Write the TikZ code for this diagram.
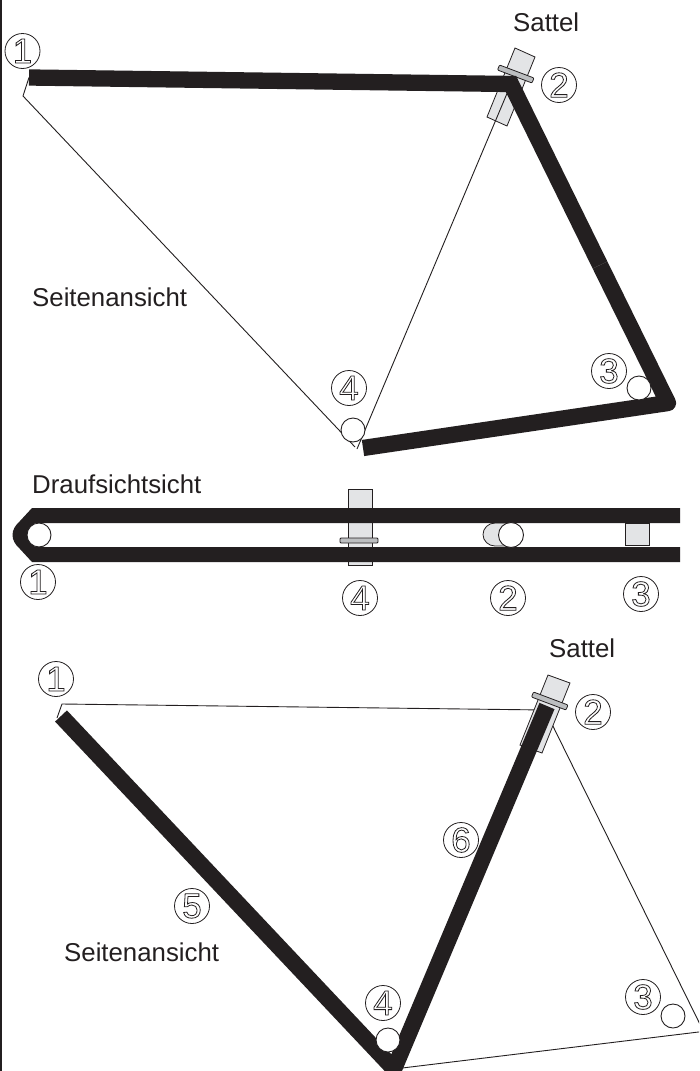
\documentclass[tikz,border=0pt]{standalone}
\usepackage{fontspec}
\setmainfont{Liberation Sans}
\definecolor{ink}{HTML}{231F20}
\definecolor{postgrey}{HTML}{E3E4E6}
\definecolor{collargrey}{HTML}{BCBEC0}
\newcommand{\outlinedigit}[1]{\special{pdf:code 1 Tr 0.8 w}#1\special{pdf:code 0 Tr}}
\tikzset{
  bar/.style={draw=ink,line width=16.3pt,line cap=butt},
  thin/.style={draw=ink,line width=0.9pt,line join=miter},
  post/.style={draw=ink,fill=postgrey,line width=0.8pt},
  collar/.style={draw=ink,fill=collargrey,line width=0.8pt,rounded corners=1pt},
  hole/.style={draw=ink,fill=white,line width=0.9pt,circle,minimum size=24pt,inner sep=0pt},
  num/.style={draw=ink,line width=0.8pt,circle,minimum size=35pt,inner sep=0pt,text=ink,font=\fontsize{35}{35}\selectfont},
  lab/.style={anchor=base west,inner sep=0pt,text=ink,font=\fontsize{25.8}{30}\selectfont}
}
\begin{document}
\begin{tikzpicture}[x=1pt,y=-1pt]
\useasboundingbox (0,0) rectangle (699,1071);
\clip (0,0) rectangle (699,1071);
\fill[white] (0,0) rectangle (699,1071);
\draw[ink,line width=1.6pt] (1,0) -- (1,1071);

% ---- top side view
\coordinate (tA) at (29,77.5);
\coordinate (tB) at (511,84);
\coordinate (tC) at (668,403);
\coordinate (tD) at (363,448);
\coordinate (tF) at (23,96);
\coordinate (tG) at (355,447);
\coordinate (tM) at (600,265);
\draw[thin] (tA) -- (tF) -- (tG);
\draw[post] (515,48) -- (535,57) -- (507,126) -- (487,117) -- cycle;
\draw[thin] (357,449) -- (tB);
\draw[collar] (497.5,70) -- (499.5,65) -- (534,78) -- (532,83) -- cycle;
\draw[bar,line join=miter] (tA) -- (tB) -- (tM);
\draw[bar,line join=round] (tM) -- (tC) -- (tD);
\node[hole] (th3) at (639,388) {};
\node[hole] (th4) at (353,430) {};
\node[num] (tn1) at (22.5,51) {\outlinedigit{1}};
\node[num] (tn2) at (559,85) {\outlinedigit{2}};
\node[num] (tn3) at (609,371) {\outlinedigit{3}};
\node[num] (tn4) at (349,388) {\outlinedigit{4}};
\node[lab] (tsat) at (513,31) {Sattel};
\node[lab] (tsei) at (32,306) {Seitenansicht};

% ---- plan view
\node[lab] (dtext) at (32,493) {Draufsichtsicht};
\draw[post] (348,489) rectangle (372,565);
\draw[post] (625,523) rectangle (649,545);
\draw[post] (511,523) -- (495,523) arc[start angle=270,end angle=90,x radius=12,y radius=11.5] -- (511,546) -- cycle;
\draw[collar] (340,538) rectangle (378,543);
\fill[ink] (680,508) -- (32,508) -- (20,521) .. controls (10,530) and (10,540) .. (20,549) -- (32,562) -- (680,562) -- (680,547) -- (35,547) -- (27,535) -- (35,523) -- (680,523) -- cycle;
\node[hole] (dh1) at (39,535) {};
\node[hole,minimum size=25pt] (dh2) at (511,535) {};
\node[num] (dn1) at (38,582) {\outlinedigit{1}};
\node[num] (dn4) at (360,598) {\outlinedigit{4}};
\node[num] (dn2) at (508,598) {\outlinedigit{2}};
\node[num] (dn3) at (641,594) {\outlinedigit{3}};

% ---- bottom side view
\coordinate (bA) at (62,704);
\coordinate (bE) at (57,718);
\coordinate (bR) at (703.5,1031.4);
\coordinate (bV) at (394,1069);
\coordinate (bP) at (547,706);
\coordinate (bL) at (61,716);
\draw[thin] (bE) -- (bA) -- (545,710);
\draw[thin] (545,710) -- (bR) -- (bV);
\draw[post] (548,675) -- (570,683) -- (542,753) -- (520,745) -- cycle;
\draw[bar,line join=miter] (bL) -- (bV) -- (bP);
\draw[collar] (531.5,697) -- (533.5,692) -- (568,705) -- (566,710) -- cycle;
\node[hole] (bh3) at (673,1016) {};
\node[hole] (bh4) at (388,1040) {};
\node[num] (bn1) at (56,679) {\outlinedigit{1}};
\node[num] (bn2) at (593,712) {\outlinedigit{2}};
\node[num] (bn3) at (643,997) {\outlinedigit{3}};
\node[num] (bn4) at (383,1003) {\outlinedigit{4}};
\node[num] (bn5) at (192,906) {\outlinedigit{5}};
\node[num] (bn6) at (461,840) {\outlinedigit{6}};
\node[lab] (bsat) at (549,657) {Sattel};
\node[lab] (bsei) at (64,961) {Seitenansicht};
\end{tikzpicture}
\end{document}
